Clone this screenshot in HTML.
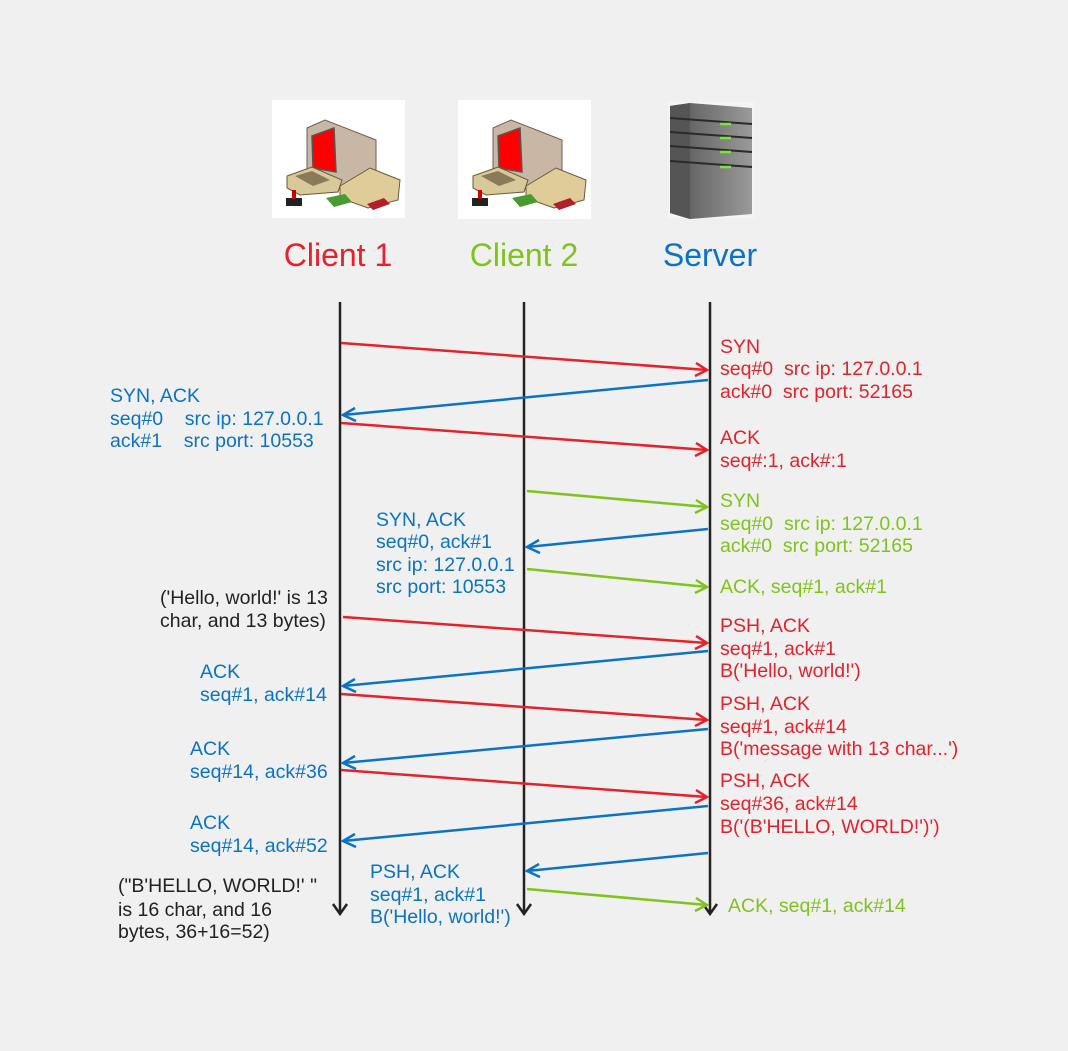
<!DOCTYPE html>
<html><head><meta charset="utf-8"><style>
html,body{margin:0;padding:0;background:#f0f0f0;}
svg{display:block;}
text{font-family:"Liberation Sans",Arial,sans-serif;font-size:19.5px;white-space:pre;}
</style></head><body>
<svg width="1068" height="1051" viewBox="0 0 1068 1051" xmlns="http://www.w3.org/2000/svg">
<rect width="1068" height="1051" fill="#f0f0f0"/>
<!-- icons -->
<g>
<rect x="272" y="100" width="133" height="118" fill="#fff"/>
<rect x="458" y="100" width="133" height="119" fill="#fff"/>
<g id="pc">
<polygon points="307,128 325,120 376,140 376,180 340,188 307,175" fill="#c9b7a6" stroke="#6e5e50" stroke-width="1"/>
<polygon points="312,136 334,128 336,172 313,168" fill="#f00" stroke="#555" stroke-width="1.5"/>
<polygon points="287,176 312,167 342,180 338,192 300,195 287,188" fill="#d8c89a" stroke="#6a5a3a" stroke-width="1"/>
<polygon points="295,176 312,171 330,180 313,186" fill="#8a7a5a"/>
<polygon points="340,186 370,168 400,180 398,200 368,208 340,198" fill="#e0cc98" stroke="#6a5a3a" stroke-width="1"/>
<rect x="286" y="198" width="16" height="8" fill="#222"/>
<rect x="292" y="190" width="4" height="9" fill="#c00"/>
<polygon points="326,198 345,194 352,202 334,207" fill="#4a9a30"/>
<polygon points="367,204 384,198 390,204 373,210" fill="#b0202a"/>
</g>
<use href="#pc" x="186" y="0"/>
<rect x="668" y="102" width="87" height="116" fill="#f4f4f4"/>
<defs><linearGradient id="sg" x1="0" x2="1"><stop offset="0" stop-color="#4c4c4c"/><stop offset="0.3" stop-color="#6a6a6a"/><stop offset="1" stop-color="#9a9a9a"/></linearGradient></defs>
<polygon points="670,106 690,103 752,108 752,214 690,219 670,213" fill="url(#sg)"/>
<polygon points="670,106 690,103 690,219 670,213" fill="#555"/>
<g stroke="#2a2a2a" stroke-width="2">
<line x1="670" y1="118" x2="752" y2="124"/><line x1="670" y1="132" x2="752" y2="138"/>
<line x1="670" y1="146" x2="752" y2="152"/><line x1="670" y1="161" x2="752" y2="167"/>
</g>
<g stroke="#7de23a" stroke-width="2.5">
<line x1="720" y1="124" x2="731" y2="124"/><line x1="720" y1="138" x2="731" y2="138"/>
<line x1="720" y1="152" x2="731" y2="152"/><line x1="720" y1="167" x2="731" y2="167"/>
</g>
</g>
<!-- headers -->
<text x="338" y="266" text-anchor="middle" style="font-size:32px" fill="#e8202a">Client 1</text>
<text x="524" y="266" text-anchor="middle" style="font-size:32px" fill="#7fc31c">Client 2</text>
<text x="710" y="266" text-anchor="middle" style="font-size:32px" fill="#0b72c6">Server</text>
<!-- lifelines -->
<g stroke="#222" stroke-width="2.5" fill="none">
<line x1="340" y1="302" x2="340" y2="914"/><polyline points="333,904 340,914 347,904"/>
<line x1="524" y1="302" x2="524" y2="914"/><polyline points="517,904 524,914 531,904"/>
<line x1="710" y1="302" x2="710" y2="914"/><polyline points="703,904 710,914 717,904"/>
</g>
<!-- arrows -->
<g stroke-width="2.5" fill="none">
<g stroke="#e8202a">
<line x1="341" y1="343" x2="707" y2="370"/><polyline points="696,363 707,370 695,376"/>
<line x1="341" y1="423" x2="707" y2="450"/><polyline points="696,443 707,450 695,456"/>
<line x1="343" y1="617" x2="707" y2="643"/><polyline points="696,636 707,643 695,649"/>
<line x1="341" y1="694" x2="707" y2="720"/><polyline points="696,713 707,720 695,726"/>
<line x1="341" y1="770" x2="707" y2="797"/><polyline points="696,790 707,797 695,803"/>
</g>
<g stroke="#0b72c6">
<line x1="708" y1="380" x2="343" y2="415"/><polyline points="355,408 343,415 356,421"/>
<line x1="708" y1="529" x2="527" y2="547"/><polyline points="539,540 527,547 540,553"/>
<line x1="708" y1="651" x2="343" y2="686"/><polyline points="355,679 343,686 356,692"/>
<line x1="708" y1="729" x2="343" y2="763"/><polyline points="355,756 343,763 356,769"/>
<line x1="708" y1="806" x2="343" y2="841"/><polyline points="355,834 343,841 356,847"/>
<line x1="708" y1="853" x2="527" y2="871"/><polyline points="539,864 527,871 540,877"/>
</g>
<g stroke="#7fc31c">
<line x1="527" y1="491" x2="707" y2="507"/><polyline points="696,500 707,507 695,513"/>
<line x1="527" y1="569" x2="707" y2="587"/><polyline points="696,580 707,587 695,593"/>
<line x1="527" y1="889" x2="707" y2="905"/><polyline points="696,898 707,905 695,911"/>
</g>
</g>
<!-- server side labels -->
<g fill="#e8202a">
<text x="720" y="353">SYN</text>
<text x="720" y="375">seq#0  src ip: 127.0.0.1</text>
<text x="720" y="398">ack#0  src port: 52165</text>
<text x="720" y="444">ACK</text>
<text x="720" y="467">seq#:1, ack#:1</text>
<text x="720" y="632">PSH, ACK</text>
<text x="720" y="655">seq#1, ack#1</text>
<text x="720" y="677">B('Hello, world!')</text>
<text x="720" y="710">PSH, ACK</text>
<text x="720" y="733">seq#1, ack#14</text>
<text x="720" y="755">B('message with 13 char...')</text>
<text x="720" y="787">PSH, ACK</text>
<text x="720" y="810">seq#36, ack#14</text>
<text x="720" y="833">B('(B'HELLO, WORLD!')')</text>
</g>
<g fill="#7fc31c">
<text x="720" y="507">SYN</text>
<text x="720" y="530">seq#0  src ip: 127.0.0.1</text>
<text x="720" y="552">ack#0  src port: 52165</text>
<text x="720" y="593">ACK, seq#1, ack#1</text>
<text x="728" y="912">ACK, seq#1, ack#14</text>
</g>
<g fill="#0b72c6">
<text x="110" y="402">SYN, ACK</text>
<text x="110" y="425">seq#0    src ip: 127.0.0.1</text>
<text x="110" y="447">ack#1    src port: 10553</text>
<text x="376" y="526">SYN, ACK</text>
<text x="376" y="548">seq#0, ack#1</text>
<text x="376" y="571">src ip: 127.0.0.1</text>
<text x="376" y="593">src port: 10553</text>
<text x="200" y="678">ACK</text>
<text x="200" y="701">seq#1, ack#14</text>
<text x="190" y="755">ACK</text>
<text x="190" y="778">seq#14, ack#36</text>
<text x="190" y="829">ACK</text>
<text x="190" y="852">seq#14, ack#52</text>
<text x="370" y="878">PSH, ACK</text>
<text x="370" y="901">seq#1, ack#1</text>
<text x="370" y="923">B('Hello, world!')</text>
</g>
<g fill="#222">
<text x="160" y="604">('Hello, world!' is 13</text>
<text x="160" y="627">char, and 13 bytes)</text>
<text x="118" y="892">("B'HELLO, WORLD!' "</text>
<text x="118" y="916">is 16 char, and 16</text>
<text x="118" y="938">bytes, 36+16=52)</text>
</g>
</svg>
</body></html>
